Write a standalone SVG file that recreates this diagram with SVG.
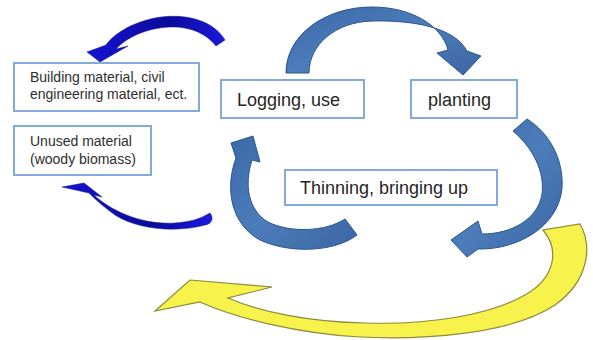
<svg xmlns="http://www.w3.org/2000/svg" width="593" height="340" viewBox="0 0 593 340">
  <defs>
    <linearGradient id="blueFill" x1="0" y1="0" x2="1" y2="1">
      <stop offset="0" stop-color="#3c6aa8"/>
      <stop offset="0.5" stop-color="#4d7cba"/>
      <stop offset="1" stop-color="#3b67a3"/>
    </linearGradient>
    <linearGradient id="navyFill" x1="0" y1="0" x2="1" y2="0">
      <stop offset="0" stop-color="#1414d4"/>
      <stop offset="0.6" stop-color="#0a0a98"/>
      <stop offset="1" stop-color="#1a1ae0"/>
    </linearGradient>
    <style>
      .box { fill: #ffffff; stroke: #84a9dd; stroke-width: 2; }
      .small { font-family: "Liberation Sans", Arial, sans-serif; font-size: 14px; fill: #2e2e2e; }
      .big { font-family: "Liberation Sans", Arial, sans-serif; font-size: 18px; fill: #262626; }
      .cycle { fill: url(#blueFill); stroke: #2c5690; stroke-width: 1; }
      .out { fill: url(#navyFill); stroke: #10108a; stroke-width: 0.5; }
      .back { fill: #f7f24c; stroke: #8e8a3c; stroke-width: 1.2; }
    </style>
  </defs>

  <rect width="593" height="340" fill="#ffffff"/>

  <g id="connectors">
    <!-- logging -> planting -->
    <path class="cycle" d="M 286 73 C 286 35 325 7 372 7 C 412 7 442 26 448 50 L 437 53 L 463 75 L 481 56 L 467 51 C 455 28 415 20 372 21 C 335 22 309 45 309 73 Z"/>
    <!-- planting -> thinning -->
    <path class="cycle" d="M 513 131 L 527 119 C 548 132 564 158 562 188 C 559 226 518 250 478 249 L 467 257 L 451 240 L 478 221 L 482 234 C 512 234 538 219 542 194 C 545 172 533 148 513 131 Z"/>
    <!-- thinning -> logging -->
    <path class="cycle" d="M 345 219 L 357 235 C 335 252 290 254 260 240 C 232 225 224 190 236 158 L 231 143 L 253 136 L 260 162 L 252 160 C 244 185 248 210 268 222 C 290 233 325 232 345 219 Z"/>
    <!-- logging -> building material -->
    <path class="out" d="M 225 40 C 212 18 180 13 155 18 C 130 23 113 35 106 45 L 87 52 L 100 62 L 128 46 L 116 49 C 126 38 146 28 170 27 C 190 26 207 34 216 46 Z"/>
    <!-- logging -> unused material -->
    <path class="out" d="M 210 213 C 214 218 212 224 205 225 C 180 232 140 231 115 215 C 105 208 96 200 89 193 L 62 187 L 84 183 L 102 197 L 94 195 C 110 210 140 225 175 223 C 190 222 200 219 210 213 Z"/>
    <!-- return loop -->
    <path class="back" d="M 580 224 C 592 245 590 280 555 305 C 510 335 420 340 360 337 C 300 334 235 318 200 302 L 155 311 L 190 280 L 272 287 L 228 298 C 260 312 310 322 365 323 C 430 325 490 315 525 295 C 555 278 560 250 543 230 Z"/>
  </g>

  <g id="building">
    <rect class="box" x="14" y="63" width="185" height="48"/>
    <text class="small" x="30" y="82">Building material, civil</text>
    <text class="small" x="30" y="99">engineering material, ect.</text>
  </g>

  <g id="unused">
    <rect class="box" x="14" y="126" width="137" height="49"/>
    <text class="small" x="30" y="146">Unused material</text>
    <text class="small" x="30" y="164">(woody biomass)</text>
  </g>

  <g id="logging">
    <rect class="box" x="221" y="80" width="143" height="38"/>
    <text class="big" x="237" y="106">Logging, use</text>
  </g>

  <g id="planting">
    <rect class="box" x="411" y="80" width="106" height="38"/>
    <text class="big" x="428" y="106">planting</text>
  </g>

  <g id="thinning">
    <rect class="box" x="285" y="170" width="212" height="35"/>
    <text class="big" x="300" y="194">Thinning, bringing up</text>
  </g>
</svg>
